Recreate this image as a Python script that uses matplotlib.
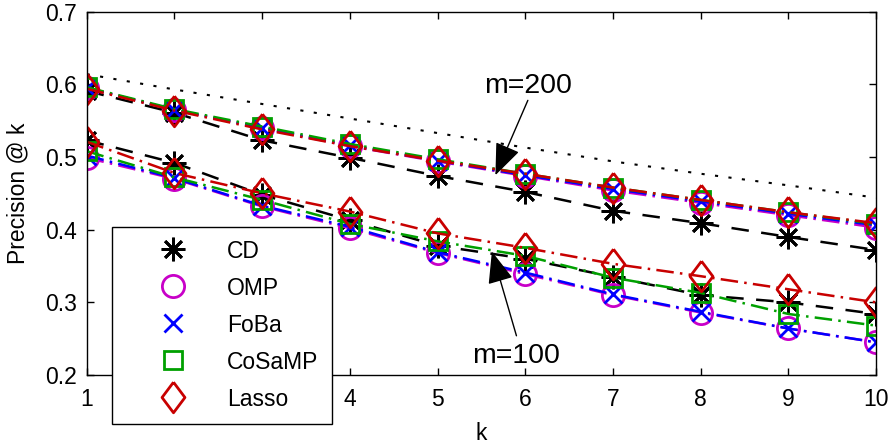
import matplotlib
matplotlib.use("Agg")
import matplotlib.pyplot as plt
from matplotlib.lines import Line2D

plt.rcParams['font.family'] = ['Liberation Sans', 'DejaVu Sans']
plt.rcParams['font.size'] = 16.5

k = [1, 2, 3, 4, 5, 6, 7, 8, 9, 10]
k_labels = ['1', '', '', '4', '5', '6', '7', '8', '9', '10']  # 2 and 3 sit under the legend
methods = ['CD', 'OMP', 'FoBa', 'CoSaMP', 'Lasso']

# precision @ k, m=200 (upper bunch)
cd_200 = [0.591, 0.561, 0.523, 0.499, 0.474, 0.452, 0.426, 0.409, 0.390, 0.372]
omp_200 = [0.595, 0.565, 0.540, 0.515, 0.494, 0.474, 0.454, 0.437, 0.420, 0.403]
foba_200 = [0.595, 0.565, 0.540, 0.516, 0.495, 0.475, 0.456, 0.439, 0.422, 0.406]
cosamp_200 = [0.596, 0.566, 0.542, 0.518, 0.497, 0.477, 0.458, 0.441, 0.424, 0.408]
lasso_200 = [0.594, 0.564, 0.538, 0.515, 0.495, 0.477, 0.458, 0.441, 0.424, 0.409]

# precision @ k, m=100 (lower bunch)
cd_100 = [0.523, 0.492, 0.448, 0.413, 0.378, 0.360, 0.335, 0.310, 0.300, 0.284]
omp_100 = [0.499, 0.470, 0.432, 0.402, 0.368, 0.339, 0.310, 0.286, 0.264, 0.245]
foba_100 = [0.502, 0.471, 0.433, 0.404, 0.369, 0.341, 0.311, 0.287, 0.264, 0.245]
cosamp_100 = [0.508, 0.472, 0.441, 0.408, 0.384, 0.364, 0.334, 0.313, 0.284, 0.268]
lasso_100 = [0.521, 0.478, 0.450, 0.425, 0.395, 0.375, 0.353, 0.336, 0.318, 0.300]

# dotted reference curve above everything
upper_bound = [0.614, 0.593, 0.573, 0.553, 0.533, 0.513, 0.494, 0.477, 0.461, 0.444]

colors = ['black', '#C800C8', '#0000FF', '#00A000', '#C80000']
diamond = [(0, 1), (0.75, 0), (0, -1), (-0.75, 0), (0, 1)]
markers = [(8, 2, 0), 'o', 'x', 's', diamond]
msizes = [17, 16, 12.5, 13, 22]
dash_cd = (0, (7, 5))
dash_dot = (0, (7, 2.5, 1, 2.5))
styles = [dash_cd, dash_dot, dash_dot, dash_dot, dash_dot]

fig = plt.figure(figsize=(8.92, 4.45), dpi=100)
ax = fig.add_axes([0.0972, 0.1573, 0.8849, 0.8164])

ax.plot(k, upper_bound, color='black', lw=1.5, linestyle=(0, (1.5, 5)))

for group in [[cd_100, omp_100, foba_100, cosamp_100, lasso_100],
              [cd_200, omp_200, foba_200, cosamp_200, lasso_200]]:
    for i, vals in enumerate(group):
        ax.plot(k, vals, color=colors[i], linestyle=styles[i], lw=1.8,
                marker=markers[i], ms=msizes[i], mfc='none',
                mec=colors[i], mew=2)

ax.set_xlim(1, 10)
ax.set_ylim(0.2, 0.7)
ax.set_xticks(k)
ax.set_xticklabels(k_labels)
ax.set_yticks([0.2, 0.3, 0.4, 0.5, 0.6, 0.7])
ax.set_yticklabels(['0.2', '0.3', '0.4', '0.5', '0.6', '0.7'])
ax.tick_params(direction='in', length=5, width=1, top=True, right=True)
ax.tick_params(axis='x', pad=9)
ax.tick_params(axis='y', pad=7)
for s in ax.spines.values():
    s.set_linewidth(1)
ax.set_xlabel('k', labelpad=8)
ax.set_ylabel('Precision @ k', labelpad=11)

# annotations
arrow_style = '-|>,head_length=1.0,head_width=0.4'
ax.annotate('', xy=(5.66, 0.475), xytext=(6.03, 0.578),
            arrowprops=dict(arrowstyle=arrow_style, mutation_scale=20,
                            color='black', lw=1, shrinkA=0, shrinkB=0))
ax.text(6.03, 0.588, 'm=200', fontsize=20.5, ha='center', va='baseline')
ax.annotate('', xy=(5.62, 0.370), xytext=(5.90, 0.254),
            arrowprops=dict(arrowstyle=arrow_style, mutation_scale=20,
                            color='black', lw=1, shrinkA=0, shrinkB=0))
ax.text(5.90, 0.2165, 'm=100', fontsize=20.5, ha='center', va='baseline')

handles = [Line2D([], [], linestyle='None', marker=markers[i], ms=msizes[i],
                  mfc='none', mec=colors[i], mew=2) for i in range(5)]
leg = fig.legend(handles, methods, loc='upper left',
                 bbox_to_anchor=(112 / 892, (445 - 227) / 445),
                 bbox_transform=fig.transFigure, borderaxespad=0,
                 fancybox=False, framealpha=1, edgecolor='black',
                 borderpad=0.57, handlelength=4.2, handletextpad=0.26,
                 handleheight=1.0, labelspacing=0.6, fontsize=16.5)
leg.get_frame().set_linewidth(1)

fig.savefig('out.png', dpi=100)
